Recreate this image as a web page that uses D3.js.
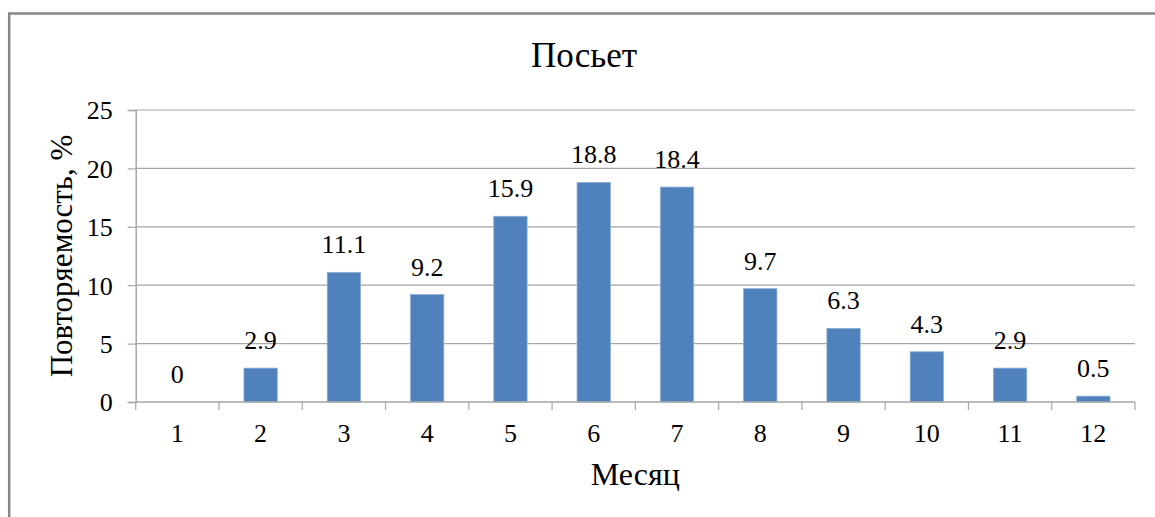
<!DOCTYPE html>
<html>
<head>
<meta charset="utf-8">
<script src="https://cdn.jsdelivr.net/npm/d3@7"></script>
<style>
  html, body { margin: 0; padding: 0; background: #fff; }
  svg { display: block; }
  svg text { font-family: "Liberation Serif", "Times New Roman", serif !important; fill: #000; }
</style>
</head>
<body>
<svg id="chart" width="1155" height="517" font-family="Liberation Serif"></svg>
<script>
const months = ["1","2","3","4","5","6","7","8","9","10","11","12"];
const values = [0, 2.9, 11.1, 9.2, 15.9, 18.8, 18.4, 9.7, 6.3, 4.3, 2.9, 0.5];
const yTicks = [0, 5, 10, 15, 20, 25];
const chartTitle = "Посьет";
const xTitle = "Месяц";
const yTitle = "Повторяемость, %";

const svg = d3.select("#chart");
const plot = { left: 135.7, right: 1135, top: 110, bottom: 402 };
const SERIF = "'Liberation Serif', 'Times New Roman', serif";

// outer frame
svg.append("rect")
  .attr("x", 9.2).attr("y", 13.5)
  .attr("width", 1170).attr("height", 520)
  .attr("fill", "none").attr("stroke", "#878787").attr("stroke-width", 2.5);

const x = d3.scaleBand().domain(months)
  .range([plot.left, plot.right]).paddingInner(0.6).paddingOuter(0.3);
const y = d3.scaleLinear().domain([0, 25]).range([plot.bottom, plot.top]);

// gridlines
svg.append("g").selectAll("line").data(yTicks.filter(t => t > 0)).join("line")
  .attr("x1", plot.left).attr("x2", plot.right)
  .attr("y1", d => y(d)).attr("y2", d => y(d))
  .attr("stroke", "#a6a6a6").attr("stroke-width", 1.2);

// y axis
const yAxis = svg.append("g").attr("transform", `translate(${plot.left},0)`)
  .call(d3.axisLeft(y).tickValues(yTicks).tickSize(8).tickPadding(15));
yAxis.attr("font-family", SERIF).attr("font-size", 26);
yAxis.select(".domain").attr("stroke", "#a6a6a6").attr("stroke-width", 1.5);
yAxis.selectAll(".tick line").attr("stroke", "#a6a6a6").attr("stroke-width", 1.2);
yAxis.selectAll(".tick text")
  .style("font-family", SERIF).style("font-size", "26px")
  .attr("fill", "#000").attr("dy", "0.34em");

// bars
svg.append("g").selectAll("rect").data(months).join("rect")
  .attr("x", d => x(d)).attr("width", x.bandwidth())
  .attr("y", (d, i) => y(values[i]))
  .attr("height", (d, i) => y(0) - y(values[i]))
  .attr("fill", "#4f81bd")
  .attr("stroke", "#8eadd6").attr("stroke-width", 0.8);

// x axis
const step = x.step();
const bounds = d3.range(months.length + 1).map(i => plot.left + i * step);
const xg = svg.append("g");
xg.append("line").attr("x1", plot.left).attr("x2", plot.right)
  .attr("y1", plot.bottom).attr("y2", plot.bottom)
  .attr("stroke", "#a6a6a6").attr("stroke-width", 1.5);
xg.selectAll("line.tk").data(bounds).join("line").attr("class", "tk")
  .attr("x1", d => d).attr("x2", d => d)
  .attr("y1", plot.bottom).attr("y2", plot.bottom + 8)
  .attr("stroke", "#a6a6a6").attr("stroke-width", 1.2);
xg.selectAll("text").data(months).join("text")
  .attr("x", d => x(d) + x.bandwidth() / 2).attr("y", 442)
  .attr("text-anchor", "middle")
  .style("font-family", SERIF).style("font-size", "26px")
  .text(d => d);

// data labels
svg.append("g").selectAll("text").data(months).join("text")
  .attr("x", d => x(d) + x.bandwidth() / 2)
  .attr("y", (d, i) => y(values[i]) - 19)
  .attr("text-anchor", "middle")
  .style("font-family", SERIF).style("font-size", "26px")
  .text((d, i) => String(values[i]));

// titles
svg.append("text").attr("x", 584).attr("y", 67)
  .attr("text-anchor", "middle")
  .style("font-family", SERIF).style("font-size", "35px").text(chartTitle);
svg.append("text").attr("x", (plot.left + plot.right) / 2).attr("y", 485)
  .attr("text-anchor", "middle")
  .style("font-family", SERIF).style("font-size", "32px").text(xTitle);
svg.append("text")
  .attr("transform", `translate(72,${(plot.top + plot.bottom) / 2}) rotate(-90)`)
  .attr("text-anchor", "middle")
  .style("font-family", SERIF).style("font-size", "31px").text(yTitle);
</script>
</body>
</html>
